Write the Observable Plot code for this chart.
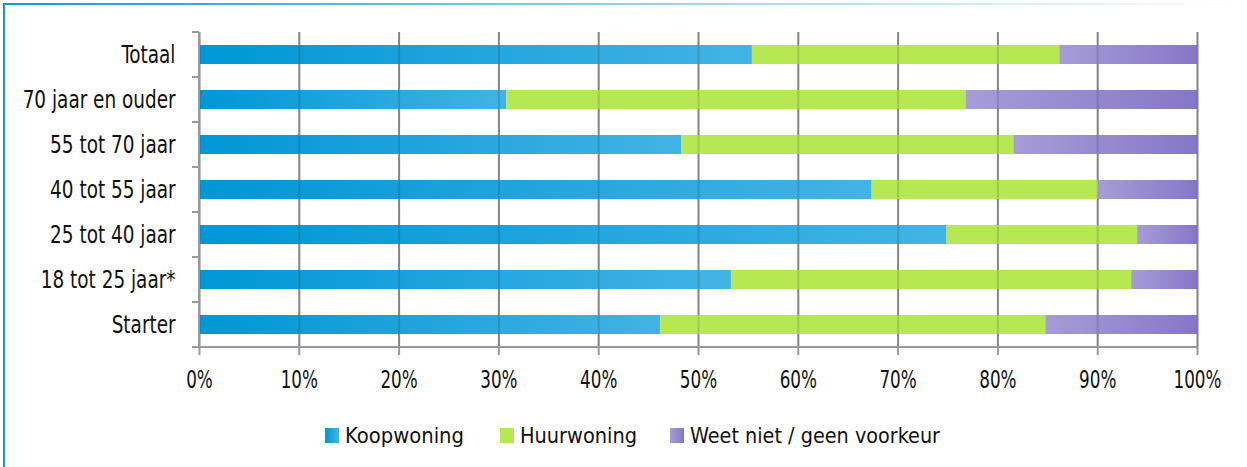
<!DOCTYPE html>
<html>
<head>
<meta charset="utf-8">
<script src="https://cdn.jsdelivr.net/npm/d3@7"></script>
<script src="https://cdn.jsdelivr.net/npm/@observablehq/plot@0.6"></script>
<style>
  body { margin: 0; background: #fff; }
  #wrap { position: relative; width: 1247px; height: 467px; overflow: hidden; background: #fff;
          font-family: "Liberation Sans Narrow", "DejaVu Sans Condensed", sans-serif; }
  #lb { position: absolute; left: 3px; top: 3px; width: 2px; height: 464px; background: #1499d6; }
  #tb { position: absolute; left: 3px; top: 2.5px; width: 1244px; height: 2px;
        background: linear-gradient(to right, #1499d6 0%, #8fd0ee 50%, rgba(255,255,255,0) 100%); }
  #chart { position: absolute; left: 0; top: 0; }
  #legend { position: absolute; top: 422px; left: 0; width: 1247px; height: 26px; font-size: 22px; color: #111; }
  .item { position: absolute; top: 0; display: flex; align-items: center; height: 26px; white-space: nowrap; }
  .sw { width: 14px; height: 15px; margin-right: 6px; flex: none; }
  .lt { display: inline-block; transform-origin: 0 50%; }
</style>
</head>
<body>
<div id="wrap">
  <div id="chart"></div>
  <div id="lb"></div>
  <div id="tb"></div>
  <div id="legend"></div>
</div>
<script>
// ---- data ----
const categories = ["Totaal", "70 jaar en ouder", "55 tot 70 jaar", "40 tot 55 jaar", "25 tot 40 jaar", "18 tot 25 jaar*", "Starter"];
const series = ["Koopwoning", "Huurwoning", "Weet niet / geen voorkeur"];
const koopwoning = [55.4, 30.8, 48.3, 67.4, 74.9, 53.3, 46.2];
const huurwoning = [30.8, 46.0, 33.3, 22.7, 19.1, 40.1, 38.6];
const weetNiet   = [13.8, 23.2, 18.4, 9.9, 6.0, 6.6, 15.2];
const xTicks = [0, 10, 20, 30, 40, 50, 60, 70, 80, 90, 100];

const seriesValues = [koopwoning, huurwoning, weetNiet];
const rows = [];
categories.forEach((c, i) => series.forEach((s, j) => rows.push({cat: c, series: s, value: seriesValues[j][i]})));

const gradIds = ["gKoop", "gHuur", "gWeet"];
const gradStops = [["#0096d6", "#43b3e4"], ["#b5e853", "#b5e853"], ["#a69cd8", "#8677c7"]];
const legendLeft = [325, 500, 670];

const FONT = '"Liberation Sans Narrow", "DejaVu Sans Condensed", sans-serif';
const gridColor = "#999999";

function defsMark() {
  const g = d3.create("svg:g");
  const defs = g.append("defs");
  gradIds.forEach((id, k) => {
    const lg = defs.append("linearGradient").attr("id", id).attr("x1", "0").attr("x2", "1").attr("y1", "0").attr("y2", "0");
    lg.append("stop").attr("offset", "0").attr("stop-color", gradStops[k][0]);
    lg.append("stop").attr("offset", "1").attr("stop-color", gradStops[k][1]);
  });
  return g.node();
}

function frameMark(index, scales, values, dimensions) {
  const {x, y} = scales;
  const step = y(categories[1]) - y(categories[0]);
  const bw = typeof y.bandwidth === "function" ? y.bandwidth() : (y.bandwidth ?? 0);
  const x0 = x(0), x1 = x(100);
  const bounds = categories.map(c => y(c) + bw / 2 - step / 2);
  bounds.push(y(categories[categories.length - 1]) + bw / 2 + step / 2);
  const g = d3.create("svg:g").attr("stroke", gridColor).attr("stroke-width", 2).attr("fill", "none");
  g.append("line").attr("x1", x0).attr("x2", x0).attr("y1", bounds[0]).attr("y2", bounds[bounds.length - 1]);
  bounds.forEach(b => g.append("line").attr("x1", x0 - 7).attr("x2", x0).attr("y1", b).attr("y2", b));
  const yb = bounds[bounds.length - 1];
  g.append("line").attr("x1", x0 - 7).attr("x2", x1).attr("y1", yb).attr("y2", yb);
  return g.node();
}

const chart = Plot.plot({
  width: 1247,
  height: 400,
  marginLeft: 199,
  marginRight: 50,
  marginTop: 32,
  marginBottom: 53,
  style: {fontFamily: FONT, background: "transparent", color: "#111"},
  x: {domain: [0, 100]},
  y: {domain: categories, paddingInner: 0.58, paddingOuter: 0.29},
  color: {domain: series, range: gradIds.map(id => `url(#${id})`)},
  marks: [
    defsMark,
    Plot.ruleX(xTicks, {stroke: gridColor, strokeWidth: 2}),
    Plot.barX(rows, Plot.stackX({x: "value", y: "cat", fill: "series", order: series})),
    Plot.ruleX(xTicks, {stroke: "#000", strokeOpacity: 0.13, strokeWidth: 2}),
    frameMark,
    Plot.axisX({ticks: xTicks, tickSize: 8, tickPadding: 15, tickFormat: d => d + "%", fontSize: 24,
                stroke: gridColor, strokeWidth: 2, fill: "#111", label: null}),
    Plot.axisY({tickSize: 0, tickPadding: 24, fontSize: 25, fill: "#111", label: null})
  ]
});
document.getElementById("chart").appendChild(chart);

// narrow the axis labels horizontally so the (condensed) face matches the reference widths
function condense(svg, label, refText, target, anchor) {
  const texts = [...svg.querySelectorAll(`g[aria-label="${label}"] text`)];
  const ref = texts.find(t => t.textContent === refText) || texts[0];
  if (!ref) return;
  const s = Math.min(1, target / ref.getComputedTextLength());
  texts.forEach(t => {
    const b = t.getBBox();
    const ax = anchor === "end" ? b.x + b.width : b.x + b.width / 2;
    const tr = t.getAttribute("transform") || "";
    t.setAttribute("transform", `${tr} translate(${ax},0) scale(${s},1) translate(${-ax},0)`);
  });
}
condense(chart, "y-axis tick label", "70 jaar en ouder", 153, "end");
condense(chart, "x-axis tick label", "100%", 48, "middle");

// legend
const legend = document.getElementById("legend");
const legendTargets = [119, 117, 250];
series.forEach((s, k) => {
  const item = document.createElement("div");
  item.className = "item";
  item.style.left = legendLeft[k] + "px";
  const sw = document.createElement("div");
  sw.className = "sw";
  sw.style.background = `linear-gradient(to right, ${gradStops[k][0]}, ${gradStops[k][1]})`;
  const t = document.createElement("span");
  t.className = "lt";
  t.textContent = s;
  item.appendChild(sw);
  item.appendChild(t);
  legend.appendChild(item);
  const w = t.getBoundingClientRect().width;
  if (w > legendTargets[k]) t.style.transform = `scaleX(${legendTargets[k] / w})`;
});
</script>
</body>
</html>
